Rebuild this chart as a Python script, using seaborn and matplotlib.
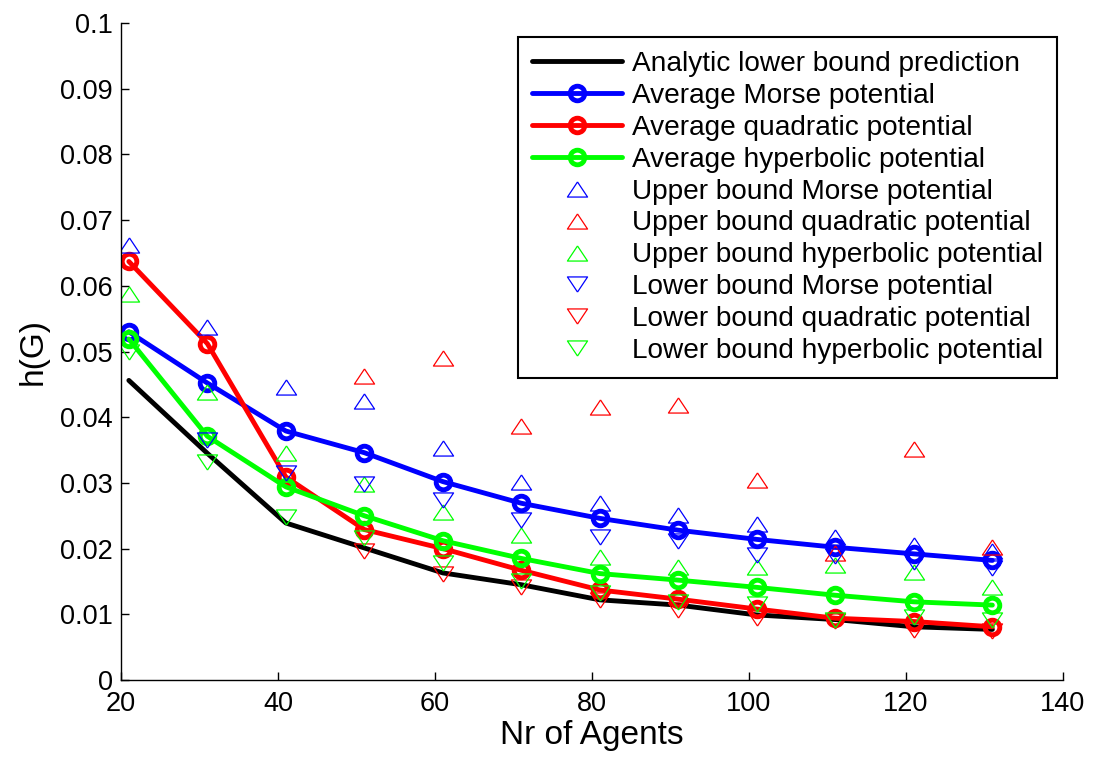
import numpy as np
import pandas as pd
import matplotlib
matplotlib.use("Agg")
import matplotlib.pyplot as plt
import seaborn as sns

nan = np.nan
agents = [21, 31, 41, 51, 61, 71, 81, 91, 101, 111, 121, 131]

analytic = [0.0456, 0.0345, 0.0239, 0.0201, 0.0163, 0.0145, 0.0122, 0.0114, 0.0099, 0.0092, 0.0081, 0.0077]
avg_morse = [0.0530, 0.0452, 0.0379, 0.0346, 0.0302, 0.0269, 0.0246, 0.0228, 0.0214, 0.0202, 0.0192, 0.0182]
avg_quad = [0.0637, 0.0512, 0.0309, 0.0229, 0.0200, 0.0167, 0.0137, 0.0123, 0.0108, 0.0094, 0.0089, 0.0081]
avg_hyp = [0.0519, 0.0371, 0.0294, 0.0250, 0.0212, 0.0185, 0.0162, 0.0152, 0.0141, 0.0129, 0.0119, 0.0114]

up_morse = [0.0662, 0.0537, 0.0446, 0.0425, 0.0353, 0.0302, 0.0269, 0.0251, 0.0237, 0.0217, 0.0205, 0.0197]
up_quad = [nan, nan, nan, 0.0463, 0.0490, 0.0387, 0.0415, 0.0419, 0.0304, 0.0194, 0.0351, 0.0202]
up_hyp = [0.0588, 0.0439, 0.0346, 0.0298, 0.0256, 0.0221, 0.0187, 0.0172, 0.0172, 0.0175, 0.0165, 0.0142]
lo_morse = [nan, 0.0365, 0.0315, 0.0298, 0.0274, 0.0244, 0.0218, 0.0211, 0.0190, 0.0188, 0.0180, 0.0170]
lo_quad = [nan, nan, nan, 0.0197, 0.0162, 0.0141, 0.0122, 0.0107, 0.0094, 0.0090, 0.0076, 0.0074]
lo_hyp = [0.0500, 0.0332, 0.0248, 0.0216, 0.0178, 0.0151, 0.0132, 0.0119, 0.0116, 0.0092, 0.0096, 0.0091]

sns.set_theme(style="white")
plt.rcParams['font.family'] = ['Liberation Sans', 'DejaVu Sans']
plt.rcParams['text.color'] = 'black'

fig = plt.figure(figsize=(11, 7.63), dpi=100)
ax = fig.add_axes([121/1100, 1 - 680/763, (1063-121)/1100, (680-23)/763])

BLUE, RED, GREEN = '#0000ff', '#ff0000', '#00ff00'
TRI_UP = [(0, 0.75), (-1, -0.75), (1, -0.75), (0, 0.75)]
TRI_DN = [(0, -0.75), (-1, 0.75), (1, 0.75), (0, -0.75)]

sns.lineplot(x=agents, y=analytic, ax=ax, color='black', lw=3.5, label='Analytic lower bound prediction')
for vals, c, lab in [(avg_morse, BLUE, 'Average Morse potential'),
                     (avg_quad, RED, 'Average quadratic potential'),
                     (avg_hyp, GREEN, 'Average hyperbolic potential')]:
    sns.lineplot(x=agents, y=vals, ax=ax, color=c, lw=3.5, marker='o', ms=10.5,
                 mfc='none', mec=c, mew=3.5, label=lab)

for vals, c, m, lab in [(up_morse, BLUE, TRI_UP, 'Upper bound Morse potential'),
                        (up_quad, RED, TRI_UP, 'Upper bound quadratic potential'),
                        (up_hyp, GREEN, TRI_UP, 'Upper bound hyperbolic potential'),
                        (lo_morse, BLUE, TRI_DN, 'Lower bound Morse potential'),
                        (lo_quad, RED, TRI_DN, 'Lower bound quadratic potential'),
                        (lo_hyp, GREEN, TRI_DN, 'Lower bound hyperbolic potential')]:
    df = pd.DataFrame({'x': agents, 'y': vals}).dropna()
    ax.plot(df['x'], df['y'], linestyle='none', marker=m, ms=14.5, mfc='none',
            mec=c, mew=0.9, label=lab)

ax.set_xlim(20, 140)
ax.set_ylim(0, 0.1)
ax.set_xticks(np.arange(20, 141, 20))
ax.set_yticks(np.arange(0, 0.1001, 0.01))
ax.set_yticklabels(['0'] + [f'{v:g}' for v in np.arange(0.01, 0.1001, 0.01).round(2)])
ax.tick_params(direction='in', length=6, width=1, labelsize=19.5, colors='black',
               left=True, bottom=True)
ax.tick_params(axis='y', pad=6)
ax.tick_params(axis='x', pad=8)
for s in ['top', 'right']:
    ax.spines[s].set_visible(False)
for s in ['left', 'bottom']:
    ax.spines[s].set_color('black')
    ax.spines[s].set_linewidth(1)
ax.set_xlabel('Nr of Agents', fontsize=24, color='black', labelpad=2)
ax.set_ylabel('h(G)', fontsize=24, color='black', labelpad=8)

leg = ax.legend(loc='upper right', bbox_to_anchor=((1057-121)/942, (680-37)/657),
                borderaxespad=0, fontsize=20.2, frameon=True, fancybox=False,
                edgecolor='black', handlelength=3.2, labelspacing=0.21,
                borderpad=0.5, handletextpad=0.36, framealpha=1)
leg.get_frame().set_linewidth(1.5)
for t in leg.get_texts():
    t.set_color('black')

fig.savefig('out.png', dpi=100, facecolor='white')
